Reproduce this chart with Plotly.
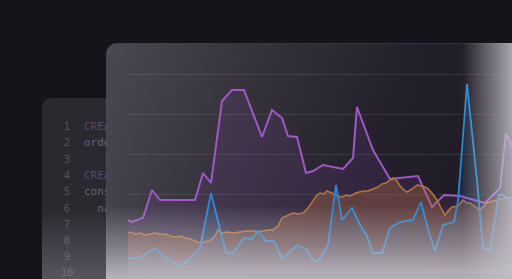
import base64
import plotly.graph_objects as go

# ---------------- data ----------------
purple_x = [0, 1, 3.75, 6, 8, 16.75, 18.75, 20.75, 23.5, 26, 29, 33.5, 36, 38.5, 40, 42.25, 44.5, 46.25,
            48.75, 53.75, 56.25, 57.25, 61.25, 65.5, 72.5, 76, 79, 83, 89.25, 93, 94.5, 96]
purple_y = [27, 26, 28, 42, 37, 37, 50.5, 45.5, 86.5, 92, 92, 68.5, 82, 78, 69, 68.5, 50.5, 51.5,
            54.5, 52.5, 58, 83.5, 62, 47.5, 49, 33.5, 39.5, 39, 35.5, 43, 70.5, 63.5]

orange_x = [0, 0.75, 1.75, 3, 4.25, 5.5, 6.75, 8, 9.25, 10.5,
            11.75, 13, 14.25, 15.5, 16.75, 18, 19.25, 20.75, 21.75, 22.5,
            23.5, 24.75, 26.25, 28, 29.75, 31.25, 32.5, 33.75, 35, 36.25,
            37.5, 38.5, 40, 41.25, 42.5, 43.75, 45, 46.25, 47.25, 48,
            49, 49.75, 51, 52.25, 53.5, 54.5, 55.5, 57, 58.75, 60,
            61.25, 62.5, 63.5, 64.5, 65.5, 66.25, 67.25, 68, 69, 69.75,
            71, 72.25, 73.5, 74.75, 76, 77.25, 78.25, 79.25, 80.25, 81,
            82.5, 83.75, 84.75, 85.5, 86.75, 88, 89, 89.75, 91.25, 93,
            94.5, 96]
orange_y = [20.5, 21, 20, 20.5, 19.5, 20, 20.5, 20, 20, 19,
            18.5, 19, 18, 17.5, 16.5, 15.5, 16, 17, 19, 22,
            20.5, 21, 20.5, 21, 21.5, 21.5, 21, 21.5, 22, 22,
            24, 28, 29.5, 30.5, 30, 30.5, 33, 37, 39.5, 40.5,
            40, 41.5, 40.5, 39, 38.5, 39.5, 39, 40.5, 41.5, 41.5,
            42.5, 43.5, 45, 45.5, 47, 48, 46.5, 44, 42, 41,
            42.5, 44.5, 44, 43, 40.5, 37, 33, 29.5, 32, 33.5,
            34, 37, 35.5, 35.5, 33.5, 32, 34, 35.5, 36.5, 37.5,
            38, 38.5]

blue_x = [0, 3, 6.75, 9.5, 13, 16, 18, 20.75, 24.5, 26.25,
          29, 31, 32.5, 34.5, 36.5, 38.5, 42.25, 44.75, 46.25, 47.5,
          50, 52, 53.5, 56, 58, 59.75, 61.25, 63.5, 65.5, 68,
          71.25, 73.25, 75, 76.75, 78.75, 81.5, 82.5, 84.75, 87.25, 88.75,
          90.5, 92.75, 93.75, 96]
blue_y = [8, 8, 13, 8, 4, 8.5, 13, 40.5, 10.5, 10.5,
          18, 17.5, 21.5, 16.5, 16.5, 7.5, 14.5, 12, 7, 6,
          14.5, 44.5, 27, 33, 24.5, 19, 10.5, 10.5, 23, 26,
          27, 36, 22.5, 11.5, 24.5, 26, 36.5, 95, 47, 13,
          12, 39.5, 39.5, 35.5]

grid_vals = [40, 60, 80, 100]

code_numbers = ["1", "2", "3", "4", "5", "6", "7", "8", "9", "10"]
code_lines = ["CREATE TABLE metrics (", "orders_id BIGINT,", "", "CREATE INDEX idx_ts",
              "constraint pk_id", "  name TEXT", "", "", "", ""]
code_colors = ["#58476a", "#66656d", "#66656d", "#58476a", "#66656d", "#66656d",
               "#66656d", "#66656d", "#66656d", "#66656d"]
code_rows = [127, 143.5, 160, 176, 192, 209, 225, 241, 257, 273]

# ---------------- decoration (svg backgrounds) ----------------
svg_below = """<svg xmlns='http://www.w3.org/2000/svg' width='512' height='279' viewBox='0 0 512 279' preserveAspectRatio='none'>
<defs>
<linearGradient id='fp' x1='106' y1='43' x2='512' y2='170' gradientUnits='userSpaceOnUse'>
<stop offset='0' stop-color='#4a4852'/>
<stop offset='0.35' stop-color='#35323c'/>
<stop offset='0.7' stop-color='#23202b'/>
<stop offset='1' stop-color='#1e1b25'/>
</linearGradient>
</defs>
<rect width='512' height='279' fill='#15141a'/>
<rect x='42' y='98' width='520' height='260' rx='9' fill='#2a2930'/>
<rect x='106.5' y='43.5' width='420' height='260' rx='10' fill='url(#fp)' stroke='rgba(255,255,255,0.10)' stroke-width='1'/>
</svg>"""

svg_above = """<svg xmlns='http://www.w3.org/2000/svg' width='512' height='279' viewBox='0 0 512 279' preserveAspectRatio='none'>
<defs>
<linearGradient id='bf' x1='0' y1='205' x2='0' y2='279' gradientUnits='userSpaceOnUse'>
<stop offset='0' stop-color='#c8c6cd' stop-opacity='0'/>
<stop offset='0.55' stop-color='#c8c6cd' stop-opacity='0.45'/>
<stop offset='1' stop-color='#c8c6cd' stop-opacity='0.88'/>
</linearGradient>
<linearGradient id='rf' x1='462' y1='0' x2='512' y2='0' gradientUnits='userSpaceOnUse'>
<stop offset='0' stop-color='#c4c2c9' stop-opacity='0'/>
<stop offset='1' stop-color='#c4c2c9' stop-opacity='0.82'/>
</linearGradient>
<linearGradient id='bb' x1='0' y1='210' x2='0' y2='279' gradientUnits='userSpaceOnUse'>
<stop offset='0' stop-color='#b0a8b8' stop-opacity='0'/>
<stop offset='1' stop-color='#b0a8b8' stop-opacity='0.35'/>
</linearGradient>
<clipPath id='c'><rect x='106' y='43' width='420' height='260' rx='10'/></clipPath>
<clipPath id='c2'><rect x='42' y='98' width='64' height='200' rx='9'/></clipPath>
</defs>
<g clip-path='url(#c)'>
<rect x='106' y='43' width='406' height='236' fill='url(#bf)'/>
<rect x='106' y='43' width='406' height='236' fill='url(#rf)'/>
</g>
<g clip-path='url(#c2)'>
<rect x='42' y='98' width='64' height='181' fill='url(#bb)'/>
</g>
</svg>"""


def data_uri(svg):
    return "data:image/svg+xml;base64," + base64.b64encode(svg.encode("utf-8")).decode("ascii")


fig = go.Figure()

fig.add_trace(go.Scatter(
    x=purple_x, y=purple_y, mode="lines", fill="tozeroy",
    fillcolor="rgba(160,85,200,0.12)", line=dict(color="#9f58c4", width=2),
    hoverinfo="skip", showlegend=False))
fig.add_trace(go.Scatter(
    x=orange_x, y=orange_y, mode="lines", fill="tozeroy",
    fillcolor="rgba(178,108,66,0.36)", line=dict(color="#b8743a", width=1.5),
    hoverinfo="skip", showlegend=False))
fig.add_trace(go.Scatter(
    x=blue_x, y=blue_y, mode="lines", fill="tozeroy",
    fillcolor="rgba(45,140,215,0.13)", line=dict(color="#2a88d4", width=1.8),
    hoverinfo="skip", showlegend=False))

# code editor text (clipped at front panel edge)
fig.add_trace(go.Scatter(
    x=[67] * len(code_numbers), y=code_rows, mode="text", text=code_numbers,
    textposition="middle center",
    textfont=dict(family="DejaVu Sans Mono", size=10.5, color="#55545c"),
    xaxis="x3", yaxis="y3", hoverinfo="skip", showlegend=False, cliponaxis=True))
fig.add_trace(go.Scatter(
    x=[84] * len(code_lines), y=code_rows, mode="text", text=code_lines,
    textposition="middle right",
    textfont=dict(family="DejaVu Sans Mono", size=11, color=code_colors),
    xaxis="x3", yaxis="y3", hoverinfo="skip", showlegend=False, cliponaxis=True))

fig.update_layout(
    width=512, height=279, autosize=False,
    margin=dict(l=0, r=0, t=0, b=0, pad=0),
    paper_bgcolor="#15141a", plot_bgcolor="rgba(0,0,0,0)",
    xaxis=dict(domain=[128 / 512, 1], range=[0, 96], visible=False, fixedrange=True),
    yaxis=dict(domain=[0, 1], range=[-2.5, 137], tickvals=grid_vals, showgrid=True,
               gridcolor="rgba(255,255,255,0.09)", gridwidth=1, showticklabels=False,
               zeroline=False, showline=False, ticks="", fixedrange=True),
    xaxis3=dict(domain=[0, 106 / 512], range=[0, 106], visible=False, anchor="y3", fixedrange=True),
    yaxis3=dict(domain=[0, 1], range=[279, 0], visible=False, anchor="x3", fixedrange=True),
    images=[
        dict(source=data_uri(svg_below), xref="paper", yref="paper", x=0, y=1,
             sizex=1, sizey=1, xanchor="left", yanchor="top", sizing="stretch", layer="below"),
        dict(source=data_uri(svg_above), xref="paper", yref="paper", x=0, y=1,
             sizex=1, sizey=1, xanchor="left", yanchor="top", sizing="stretch", layer="above"),
    ],
)

fig.write_html("out.html", config={"displayModeBar": False, "staticPlot": True})
